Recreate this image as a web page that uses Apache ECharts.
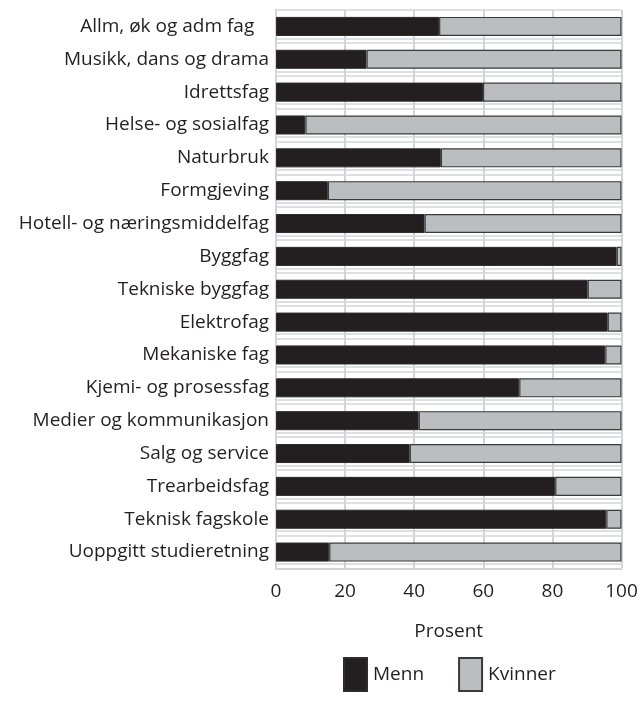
<!DOCTYPE html>
<html>
<head>
<meta charset="utf-8">
<script src="https://cdn.jsdelivr.net/npm/echarts@6/dist/echarts.min.js"></script>
<style>
  html, body { margin: 0; padding: 0; background: #fff; }
  #chart { width: 641px; height: 701px; }
</style>
</head>
<body>
<div id="chart"></div>
<script>
  // studieretninger, topp til bunn
  var categories = [
    'Allm, øk og adm fag   ',
    'Musikk, dans og drama',
    'Idrettsfag',
    'Helse- og sosialfag',
    'Naturbruk',
    'Formgjeving',
    'Hotell- og næringsmiddelfag',
    'Byggfag',
    'Tekniske byggfag',
    'Elektrofag',
    'Mekaniske fag',
    'Kjemi- og prosessfag',
    'Medier og kommunikasjon',
    'Salg og service',
    'Trearbeidsfag',
    'Teknisk fagskole',
    'Uoppgitt studieretning'
  ];
  var menn = [47.2, 26.2, 59.9, 8.5, 47.7, 15.0, 43.0, 98.6, 90.2, 96.0, 95.3, 70.4, 41.3, 38.7, 80.8, 95.6, 15.4];
  var kvinner = [52.8, 73.8, 40.1, 91.5, 52.3, 85.0, 57.0, 1.4, 9.8, 4.0, 4.7, 29.6, 58.7, 61.3, 19.2, 4.4, 84.6];
  var xTicks = [0, 20, 40, 60, 80, 100];

  var textColor = '#231f20';
  var gridColor = '#d3d4d8';
  var font = 'Open Sans';
  var fontSize = 19;

  var chart = echarts.init(document.getElementById('chart'));

  chart.setOption({
    animation: false,
    textStyle: { fontFamily: font },
    grid: [
      { left: 276, right: 19.5, top: 10, bottom: 132.5 },
      /*ekstra linjer for doble rutenett*/
      { left: 276, right: 19.5, top: 38.5, bottom: 137 }
    ],
    legend: {
      data: ['Menn', 'Kvinner'],
      icon: 'rect',
      left: 343,
      top: 657,
      padding: 0,
      itemWidth: 23,
      itemHeight: 33,
      itemGap: 34,
      textStyle: { color: textColor, fontSize: fontSize, fontFamily: font, padding: [0, 0, 0, 1] }
    },
    xAxis: [
      {
        type: 'value',
        gridIndex: 0,
        min: xTicks[0],
        max: xTicks[xTicks.length - 1],
        interval: xTicks[1] - xTicks[0],
        name: 'Prosent',
        nameLocation: 'middle',
        nameGap: 54,
        nameTextStyle: { color: textColor, fontSize: fontSize, fontFamily: font },
        axisLine: { show: true, lineStyle: { color: gridColor, width: 2 } },
        axisTick: { show: false },
        axisLabel: { color: textColor, fontSize: fontSize, fontFamily: font, margin: 14 },
        splitLine: { show: true, lineStyle: { color: gridColor, width: 2 } }
      },
      {
        type: 'value',
        gridIndex: 1,
        min: 0,
        max: 100,
        show: false
      }
    ],
    yAxis: [
      {
        type: 'category',
        gridIndex: 0,
        inverse: true,
        data: categories,
        axisLine: { show: true, lineStyle: { color: gridColor, width: 2 } },
        axisTick: { show: false },
        axisLabel: { color: textColor, fontSize: fontSize, fontFamily: font, margin: 7 },
        splitLine: { show: true, lineStyle: { color: gridColor, width: 1.5 } }
      },
      {
        type: 'category',
        gridIndex: 1,
        inverse: true,
        data: categories.slice(1),
        axisLine: { show: false },
        axisTick: { show: false },
        axisLabel: { show: false },
        splitLine: { show: true, lineStyle: { color: gridColor, width: 1.5 } }
      }
    ],
    series: [
      {
        name: 'Menn',
        type: 'bar',
        stack: 'total',
        barWidth: '58%',
        data: menn,
        itemStyle: { color: '#231f20', borderColor: '#2e2b2c', borderWidth: 1 }
      },
      {
        name: 'Kvinner',
        type: 'bar',
        stack: 'total',
        barWidth: '58%',
        data: kvinner,
        itemStyle: { color: '#bcbdc0', borderColor: '#3a3a3c', borderWidth: 1.2 }
      }
    ]
  });
</script>
</body>
</html>
